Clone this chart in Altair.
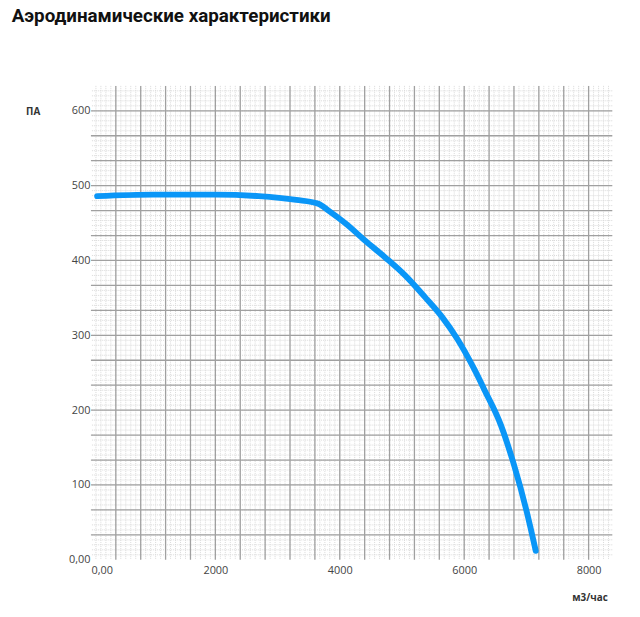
import altair as alt
import pandas as pd
import numpy as np

# curve (flow m3/h, pressure Pa)
flow = [100, 1000, 2000, 2700, 3300, 3650, 3830, 4100, 4400, 4730, 5050, 5370,
        5640, 5890, 6160, 6320, 6590, 6800, 7000, 7150]
pressure = [486, 488, 488, 486, 481, 476, 466, 449, 427, 404, 380, 351,
            325, 295, 255, 228, 180, 127, 66, 12]

x_ticks = [0, 2000, 4000, 6000, 8000]
y_ticks = [0, 100, 200, 300, 400, 500, 600]
X_MAX = 8380
Y_MAX = 633.3

major_x = np.arange(400, X_MAX, 400)
minor_x = np.arange(80, X_MAX, 80)
major_y = np.arange(1, 19) * (100 / 3)
minor_y = np.arange(1, 95) * (100 / 15)

xs = alt.Scale(domain=[0, X_MAX], nice=False, zero=False)
ys = alt.Scale(domain=[0, Y_MAX], nice=False, zero=False)

x_axis = alt.Axis(
    values=x_ticks, grid=False, domain=False, ticks=False,
    labelExpr="datum.value == 0 ? '0,00' : format(datum.value, 'd')",
    labelAlign=alt.ConditionalAxisLabelAlign(
        condition={"test": "datum.value == 0", "value": "left"}, value="center"
    ),
    labelFont="Open Sans", labelFontSize=11, labelColor="#444444",
    labelPadding=5, labelFlush=False,
    title="м3/час", titleFont="Open Sans", titleFontSize=10,
    titleFontWeight="bold", titleColor="#333333",
    titleX=505, titleY=38, titleAlign="center", titleBaseline="middle",
)
y_axis = alt.Axis(
    values=y_ticks, grid=False, domain=False, ticks=False,
    labelExpr="datum.value == 0 ? '0,00' : format(datum.value, 'd')",
    labelFont="Open Sans", labelFontSize=11, labelColor="#444444",
    labelPadding=1, labelFlush=False,
    title="ПА", titleFont="Open Sans", titleFontSize=10,
    titleFontWeight="bold", titleColor="#333333", titleAngle=0,
    titleX=-59, titleY=26, titleAlign="center", titleBaseline="middle",
)

curve_df = pd.DataFrame({"flow": flow, "pressure": pressure})

line = alt.Chart(curve_df).mark_line(
    color="#0a96f7", strokeWidth=6, interpolate="monotone", strokeCap="round"
).encode(
    x=alt.X("flow:Q", scale=xs, axis=x_axis),
    y=alt.Y("pressure:Q", scale=ys, axis=y_axis),
)

minor_v = alt.Chart(pd.DataFrame({"flow": minor_x})).mark_rule(
    color="#d9d9d9", strokeWidth=1, strokeDash=[1, 1]
).encode(x=alt.X("flow:Q", scale=xs, axis=x_axis))
minor_h = alt.Chart(pd.DataFrame({"pressure": minor_y})).mark_rule(
    color="#d9d9d9", strokeWidth=1, strokeDash=[1, 1]
).encode(y=alt.Y("pressure:Q", scale=ys, axis=y_axis))
major_v = alt.Chart(pd.DataFrame({"flow": major_x})).mark_rule(
    color="#a0a0a0", strokeWidth=1.3
).encode(x=alt.X("flow:Q", scale=xs, axis=x_axis))
major_h = alt.Chart(pd.DataFrame({"pressure": major_y})).mark_rule(
    color="#a0a0a0", strokeWidth=1.3
).encode(y=alt.Y("pressure:Q", scale=ys, axis=y_axis))

chart = alt.layer(minor_v, minor_h, major_v, major_h, line).properties(
    width=528,
    height=480,
    autosize=alt.AutoSizeParams(type="none"),
    padding={"left": 84, "top": 75, "right": 20, "bottom": 50},
    title=alt.TitleParams(
        "Аэродинамические характеристики",
        anchor="start", font="Roboto", fontSize=19, fontWeight="bold",
        color="#111111", dx=-14, offset=45, baseline="alphabetic",
    ),
).configure_view(stroke=None)

chart.save("out.html", embed_options={"renderer": "svg", "actions": False})
